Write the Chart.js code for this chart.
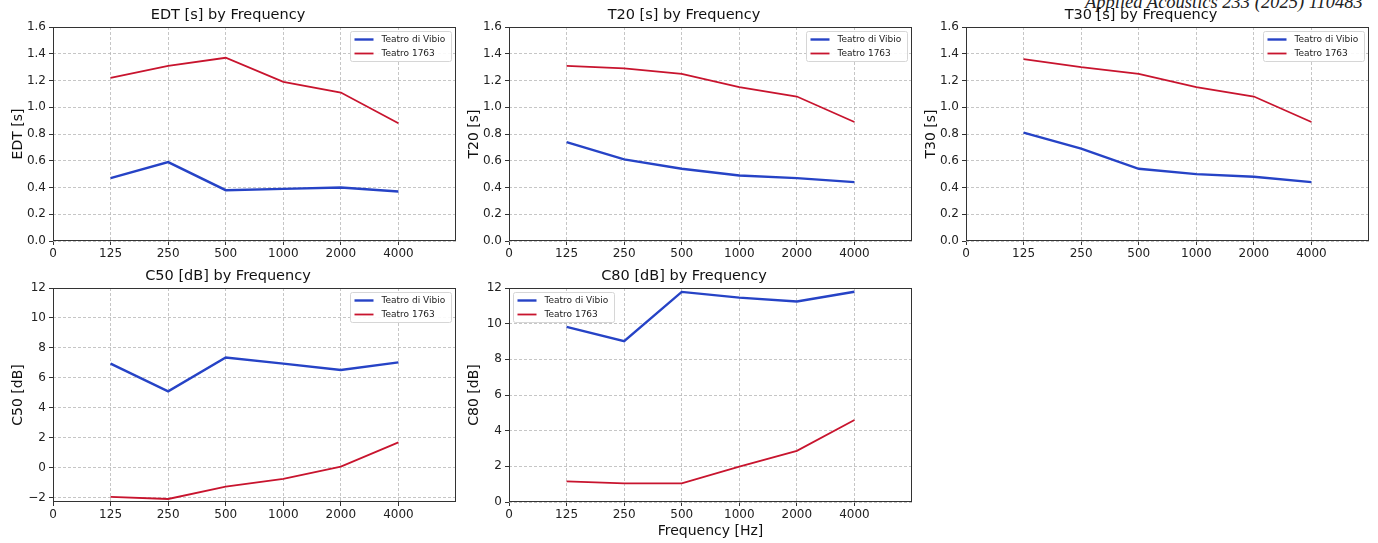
<!DOCTYPE html>
<html>
<head>
<meta charset="utf-8">
<title>Room acoustic parameters by frequency</title>
<script src="https://cdn.jsdelivr.net/npm/chart.js@4.4.1/dist/chart.umd.min.js"></script>
<style>
  body { margin: 0; background: #fff; width: 1378px; height: 543px; overflow: hidden; position: relative; }
  canvas { position: absolute; }
  #journal { position: absolute; left: 1085px; top: -8px; font: italic 18.5px "Liberation Serif", serif; color: #222; white-space: nowrap; }
</style>
</head>
<body>
<div id="journal">Applied Acoustics 233 (2025) 110483</div>
<canvas id="c-edt"></canvas>
<canvas id="c-t20"></canvas>
<canvas id="c-t30"></canvas>
<canvas id="c-c50"></canvas>
<canvas id="c-c80"></canvas>
<script>
// x positions 0..6, data sit on 1..6
const xTickLabels = ['0', '125', '250', '500', '1000', '2000', '4000'];
const seriesNames = ['Teatro di Vibio', 'Teatro 1763'];

const edtVibio = [0.47, 0.59, 0.38, 0.39, 0.40, 0.37];
const edt1763  = [1.22, 1.31, 1.37, 1.19, 1.11, 0.88];
const t20Vibio = [0.74, 0.61, 0.54, 0.49, 0.47, 0.44];
const t201763  = [1.31, 1.29, 1.25, 1.15, 1.08, 0.89];
const t30Vibio = [0.81, 0.69, 0.54, 0.50, 0.48, 0.44];
const t301763  = [1.36, 1.30, 1.25, 1.15, 1.08, 0.89];
const c50Vibio = [6.96, 5.11, 7.36, 6.96, 6.53, 7.04];
const c501763  = [-1.93, -2.07, -1.24, -0.73, 0.09, 1.71];
const c80Vibio = [9.82, 9.02, 11.78, 11.46, 11.24, 11.79];
const c801763  = [1.16, 1.04, 1.04, 1.99, 2.87, 4.60];

const BLUE = '#2643c6';
const RED = '#c8142e';
const FONT = '"DejaVu Sans", sans-serif';

// draws the matplotlib-style box around the axes and the framed legend
const frameLegend = {
  id: 'frameLegend',
  afterDatasetsDraw(chart) {
    const { ctx, chartArea: a } = chart;
    ctx.save();
    ctx.strokeStyle = '#333';
    ctx.lineWidth = 1;
    ctx.strokeRect(Math.round(a.left) + 0.5, Math.round(a.top) + 0.5,
                   Math.round(a.right - a.left) - 1, Math.round(a.bottom - a.top) - 1);
    ctx.restore();
  },
  afterDraw(chart, args, opts) {
    const { ctx, chartArea: a } = chart;
    const sets = chart.data.datasets;
    ctx.save();
    ctx.font = '9px ' + FONT;
    const tw = Math.max(...sets.map(d => ctx.measureText(d.label).width));
    const w = Math.round(4 + 19 + 8 + tw + 6), h = 30;
    const x = opts.corner === 'left' ? Math.round(a.left) + 4.5 : Math.round(a.right) - 4.5 - w;
    const y = Math.round(a.top) + 4.5;
    ctx.fillStyle = 'rgba(255,255,255,0.9)';
    ctx.strokeStyle = '#d6d6d6';
    ctx.lineWidth = 1;
    ctx.beginPath();
    ctx.roundRect(x, y, w, h, 2);
    ctx.fill();
    ctx.stroke();
    sets.forEach((d, i) => {
      const ry = y + 8 + i * 14;
      ctx.strokeStyle = d.borderColor;
      ctx.lineWidth = d.borderWidth;
      ctx.beginPath();
      ctx.moveTo(x + 4, ry);
      ctx.lineTo(x + 23, ry);
      ctx.stroke();
      ctx.fillStyle = '#222';
      ctx.textBaseline = 'middle';
      ctx.fillText(d.label, x + 31, ry + 0.5);
    });
    ctx.restore();
  }
};

const secFmt = v => v.toFixed(1);
const dbFmt = v => (v < 0 ? '\u2212' + Math.abs(v) : String(v));

const panels = [
  { id: 'c-edt', left: 53,  top: 27,  title: 'EDT [s] by Frequency', yTitle: 'EDT [s]', a: edtVibio, b: edt1763, min: 0, max: 1.6, step: 0.2, fmt: secFmt, corner: 'right' },
  { id: 'c-t20', left: 509, top: 27,  title: 'T20 [s] by Frequency', yTitle: 'T20 [s]', a: t20Vibio, b: t201763, min: 0, max: 1.6, step: 0.2, fmt: secFmt, corner: 'right' },
  { id: 'c-t30', left: 966, top: 27,  title: 'T30 [s] by Frequency', yTitle: 'T30 [s]', a: t30Vibio, b: t301763, min: 0, max: 1.6, step: 0.2, fmt: secFmt, corner: 'right' },
  { id: 'c-c50', left: 53,  top: 288, title: 'C50 [dB] by Frequency', yTitle: 'C50 [dB]', a: c50Vibio, b: c501763, min: -2.27, max: 12, step: 2, fmt: dbFmt, corner: 'right' },
  { id: 'c-c80', left: 509, top: 288, title: 'C80 [dB] by Frequency', yTitle: 'C80 [dB]', a: c80Vibio, b: c801763, min: 0, max: 12, step: 2, fmt: dbFmt, corner: 'left', xTitle: 'Frequency [Hz]' }
];

const AREA_W = 403, AREA_H = 214, Y_W = 53, TOP = 27, RIGHT = 10;

function makeChart(p) {
  const canvas = document.getElementById(p.id);
  const xh = p.xTitle ? 40 : 22;
  canvas.width = Y_W + AREA_W + RIGHT;
  canvas.height = TOP + AREA_H + xh;
  canvas.style.left = (p.left - Y_W) + 'px';
  canvas.style.top = (p.top - TOP) + 'px';

  const toPoints = arr => arr.map((v, i) => ({ x: i + 1, y: v }));

  new Chart(canvas, {
    type: 'line',
    data: {
      datasets: [
        { label: seriesNames[0], data: toPoints(p.a), borderColor: BLUE, borderWidth: 2.4, pointRadius: 0, tension: 0 },
        { label: seriesNames[1], data: toPoints(p.b), borderColor: RED, borderWidth: 1.8, pointRadius: 0, tension: 0 }
      ]
    },
    options: {
      responsive: false,
      animation: false,
      events: [],
      layout: { padding: { top: 7, right: RIGHT, left: 0, bottom: 0 } },
      plugins: {
        legend: { display: false },
        tooltip: { enabled: false },
        title: {
          display: true, text: p.title, color: '#111',
          font: { family: FONT, size: 14.5, weight: 'normal' },
          padding: { top: 0, bottom: 2.6 }
        },
        frameLegend: { corner: p.corner }
      },
      scales: {
        x: {
          type: 'linear', min: 0, max: 7,
          afterBuildTicks: s => { s.ticks = s.ticks.filter(t => t.value <= 6); },
          afterFit: s => { s.height = xh; },
          ticks: {
            stepSize: 1, autoSkip: false, maxRotation: 0, padding: 2,
            color: '#222', font: { family: FONT, size: 12 },
            callback: v => xTickLabels[v]
          },
          grid: { color: '#b8b8b8', lineWidth: 0.8, tickLength: 4, tickColor: '#333', tickWidth: 1, tickBorderDash: [] },
          border: { display: false, dash: [3, 2] },
          title: {
            display: !!p.xTitle, text: p.xTitle || '', color: '#111',
            font: { family: FONT, size: 14 }, padding: { top: 0, bottom: 2 }
          }
        },
        y: {
          min: p.min, max: p.max,
          afterFit: s => { s.width = Y_W; },
          ticks: {
            stepSize: p.step, includeBounds: false, padding: 3,
            color: '#222', font: { family: FONT, size: 12 },
            callback: p.fmt
          },
          grid: { color: '#b8b8b8', lineWidth: 0.8, tickLength: 4, tickColor: '#333', tickWidth: 1, tickBorderDash: [] },
          border: { display: false, dash: [3, 2] },
          title: {
            display: true, text: p.yTitle, color: '#111',
            font: { family: FONT, size: 14 }, padding: { top: 10, bottom: 0 }
          }
        }
      }
    },
    plugins: [frameLegend]
  });
}

panels.forEach(makeChart);
</script>
</body>
</html>
